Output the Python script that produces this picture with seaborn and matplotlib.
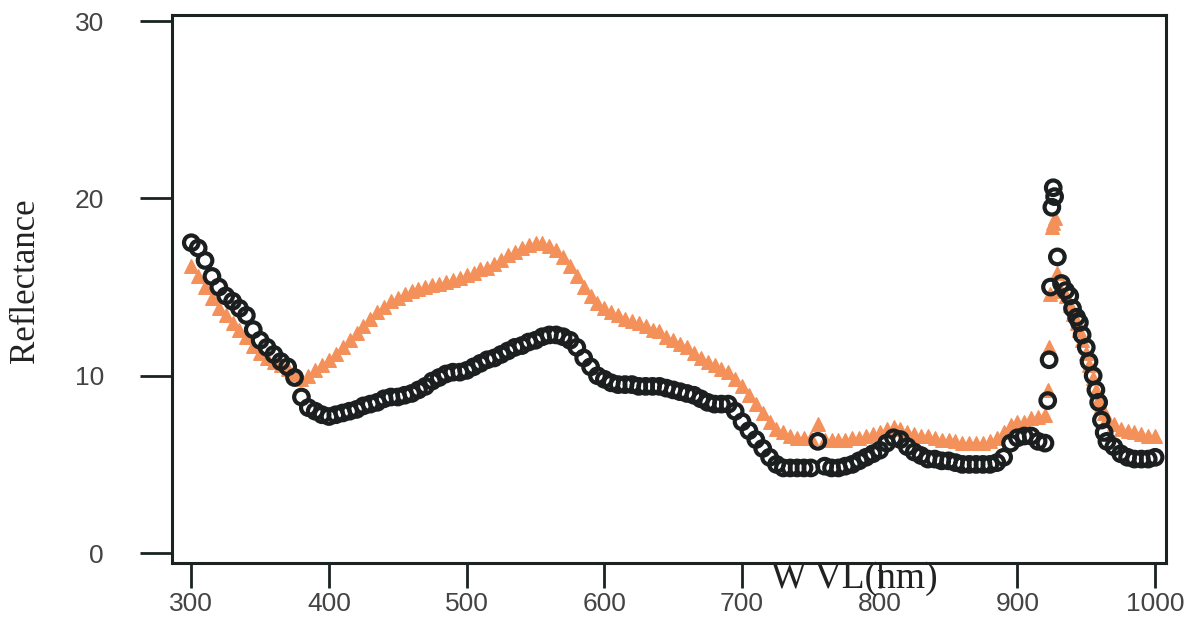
import numpy as np
import pandas as pd
import matplotlib
matplotlib.use("Agg")
import matplotlib.pyplot as plt
import seaborn as sns
from matplotlib import font_manager

# ---------------- data ----------------
wl_main = list(range(300, 920, 5))
wl_spike = [920, 922, 923, 924, 925, 926, 927, 929, 932, 935, 938, 940, 943, 945,
            947, 950, 952, 955, 957, 959, 961, 963, 965, 970, 975, 980, 985, 990,
            995, 1000]
wavelength = wl_main + wl_spike

black_main = [
    17.5, 17.2, 16.5, 15.6, 15.0, 14.5, 14.2, 13.8, 13.4, 12.6,   # 300-345
    12.0, 11.6, 11.2, 10.8, 10.5, 9.9, 8.8, 8.2, 8.0, 7.8,        # 350-395
    7.7, 7.8, 7.9, 8.0, 8.1, 8.3, 8.4, 8.5, 8.7, 8.8,             # 400-445
    8.8, 8.9, 9.0, 9.2, 9.4, 9.7, 9.9, 10.1, 10.2, 10.2,          # 450-495
    10.3, 10.5, 10.7, 10.9, 11.0, 11.2, 11.4, 11.6, 11.7, 11.9,   # 500-545
    12.0, 12.2, 12.3, 12.3, 12.2, 12.0, 11.6, 11.0, 10.5, 10.0,   # 550-595
    9.8, 9.6, 9.5, 9.5, 9.5, 9.4, 9.4, 9.4, 9.4, 9.3,             # 600-645
    9.2, 9.1, 9.0, 8.9, 8.7, 8.5, 8.4, 8.4, 8.4, 8.0,             # 650-695
    7.4, 6.9, 6.4, 5.9, 5.4, 5.0, 4.8, 4.8, 4.8, 4.8,             # 700-745
    4.8, 6.3, 4.9, 4.8, 4.8, 4.9, 5.0, 5.2, 5.4, 5.6,             # 750-795
    5.8, 6.2, 6.5, 6.4, 6.0, 5.7, 5.5, 5.3, 5.3, 5.2,             # 800-845
    5.2, 5.1, 5.0, 5.0, 5.0, 5.0, 5.0, 5.1, 5.4, 6.2,             # 850-895
    6.5, 6.6, 6.6, 6.3,                                           # 900-915
]
black_spike = [6.2, 8.6, 10.9, 15.0, 19.5, 20.6, 20.1, 16.7, 15.2, 14.8,
               14.5, 13.8, 13.3, 13.0, 12.3, 11.6, 10.8, 10.0, 9.2, 8.5,
               7.5, 6.8, 6.3, 6.0, 5.6, 5.4, 5.3, 5.3, 5.3, 5.4]
black_reflectance = black_main + black_spike

orange_main = [
    16.2, 15.6, 15.0, 14.4, 13.8, 13.4, 13.0, 12.6, 12.2, 11.7,   # 300-345
    11.3, 11.0, 10.8, 10.6, 10.4, 10.1, 9.8, 10.0, 10.3, 10.6,    # 350-395
    10.9, 11.2, 11.6, 12.0, 12.4, 12.8, 13.2, 13.6, 13.9, 14.2,   # 400-445
    14.4, 14.6, 14.8, 14.9, 15.0, 15.1, 15.2, 15.3, 15.4, 15.5,   # 450-495
    15.7, 15.8, 16.0, 16.1, 16.3, 16.5, 16.8, 17.0, 17.2, 17.4,   # 500-545
    17.5, 17.5, 17.3, 17.1, 16.7, 16.2, 15.6, 15.0, 14.5, 14.1,   # 550-595
    13.8, 13.6, 13.4, 13.2, 13.1, 13.0, 12.8, 12.6, 12.5, 12.2,   # 600-645
    12.0, 11.8, 11.6, 11.3, 11.0, 10.8, 10.6, 10.4, 10.2, 9.8,    # 650-695
    9.4, 8.9, 8.4, 7.9, 7.4, 7.0, 6.8, 6.6, 6.5, 6.5,             # 700-745
    6.5, 7.3, 6.4, 6.4, 6.4, 6.4, 6.5, 6.5, 6.6, 6.7,             # 750-795
    6.8, 7.0, 7.1, 7.0, 6.8, 6.7, 6.6, 6.6, 6.5, 6.4,             # 800-845
    6.4, 6.3, 6.2, 6.2, 6.2, 6.2, 6.3, 6.5, 6.8, 7.2,             # 850-895
    7.4, 7.4, 7.6, 7.7,                                           # 900-915
]
orange_spike = [7.8, 9.2, 11.6, 14.6, 18.4, 18.6, 18.9, 15.8, 14.8, 14.5,
                14.0, 13.5, 13.0, 12.6, 12.0, 11.3, 10.6, 9.9, 9.2, 8.7,
                8.3, 7.9, 7.6, 7.3, 7.0, 6.9, 6.8, 6.7, 6.6, 6.6]
orange_reflectance = orange_main + orange_spike

x_ticks = [300, 400, 500, 600, 700, 800, 900, 1000]
y_ticks = [0, 10, 20, 30]

df_black = pd.DataFrame({"WVL": wavelength, "Reflectance": black_reflectance})
df_orange = pd.DataFrame({"WVL": wavelength, "Reflectance": orange_reflectance})

# ---------------- style ----------------
sns.set_theme(style="white")
avail = {f.name for f in font_manager.fontManager.ttflist}
sans = "Liberation Sans" if "Liberation Sans" in avail else "DejaVu Sans"
serif = "Liberation Serif" if "Liberation Serif" in avail else "DejaVu Serif"
plt.rcParams["font.family"] = [sans, "DejaVu Sans"]

fig = plt.figure(figsize=(11.92, 6.21), dpi=100)
ax = fig.add_axes([0.1443, 0.0934, 0.834, 0.8824])

sns.scatterplot(data=df_orange, x="WVL", y="Reflectance", ax=ax, marker="^",
                s=95, color="#F4915A", edgecolor="#F4915A", linewidth=1.0,
                zorder=2, legend=False)
sns.scatterplot(data=df_black, x="WVL", y="Reflectance", ax=ax, marker="o",
                s=110, facecolors="none", edgecolor="#1b1f1f", linewidth=3.0,
                zorder=3, legend=False)

ax.set_xlim(286, 1008)
ax.set_ylim(-0.56, 30.34)
ax.set_xticks(x_ticks)
ax.set_xticklabels([str(v) for v in x_ticks])
ax.set_yticks(y_ticks)
ax.set_yticklabels([str(v) for v in y_ticks])

for sp in ax.spines.values():
    sp.set_visible(True)
    sp.set_color("#1b2222")
    sp.set_linewidth(2.2)

ax.tick_params(axis="x", direction="out", length=18, width=2, color="#1b2222",
               labelsize=19, labelcolor="#444444", pad=3, bottom=True)
ax.tick_params(axis="y", direction="out", length=23, width=2, color="#1b2222",
               labelsize=19, labelcolor="#444444", pad=26, left=True)

ax.set_xlabel("")
ax.set_ylabel("Reflectance", fontfamily=serif, fontsize=25, color="#222222")
ax.yaxis.set_label_coords(-0.131, 0.516)

fig.text(0.717, 0.068, "W VL(nm)", fontfamily=serif, fontsize=27,
         color="#222222", ha="center", va="center")

fig.savefig("out.png", dpi=100, facecolor="white")
